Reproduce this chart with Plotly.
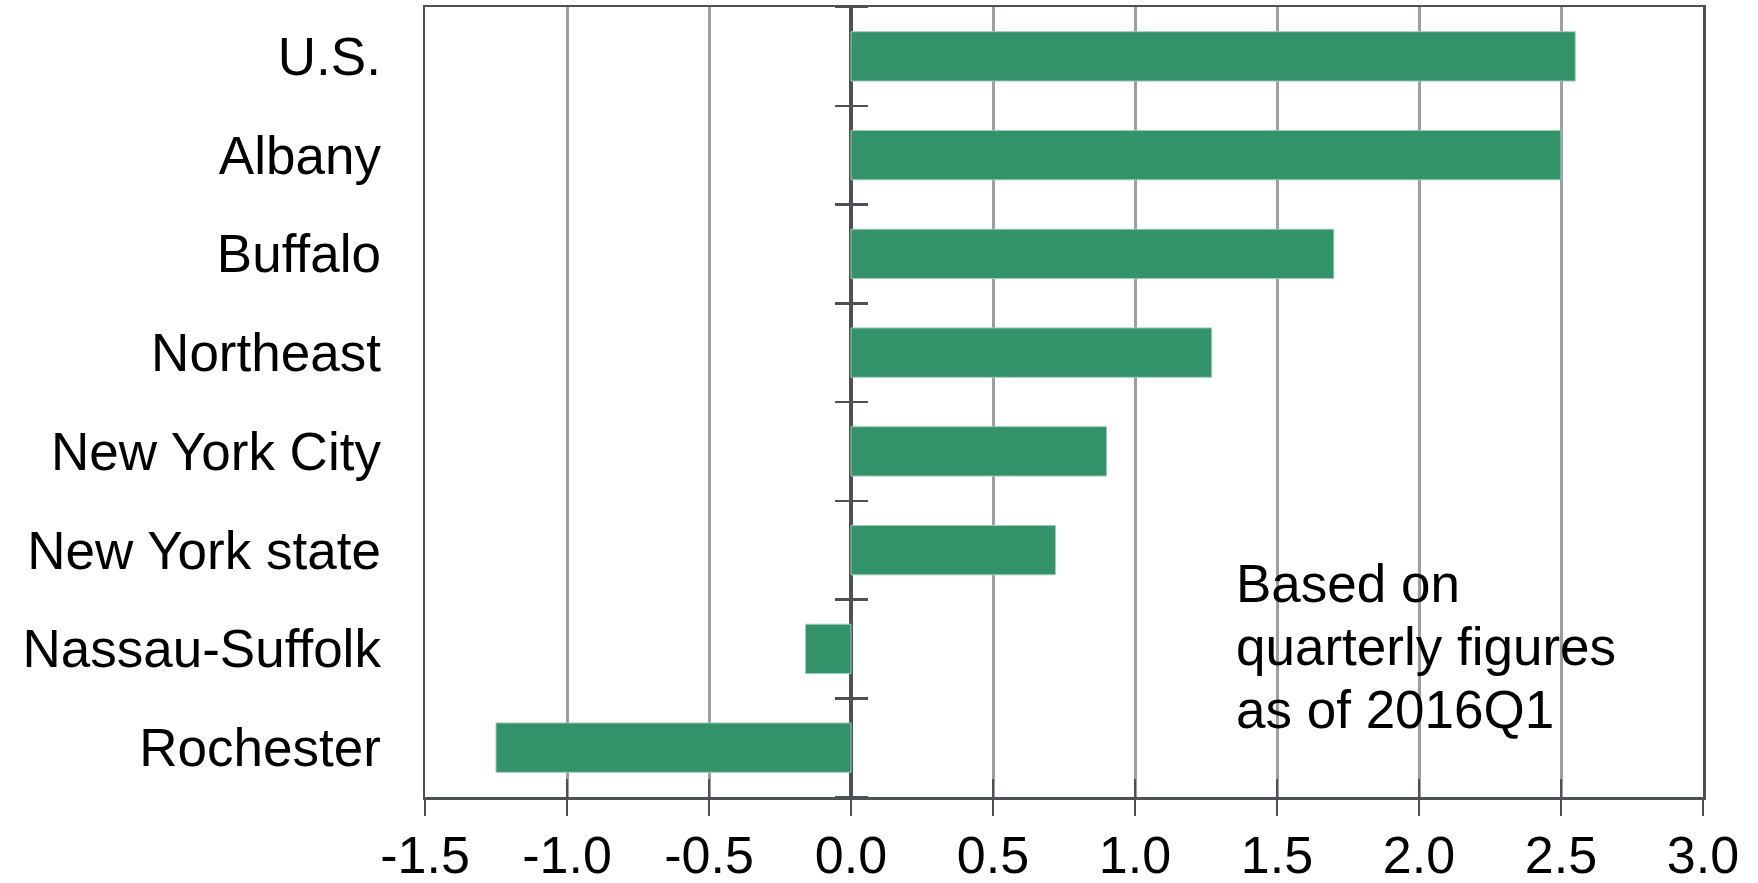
import plotly.graph_objects as go

regions = ["U.S.", "Albany", "Buffalo", "Northeast", "New York City",
           "New York state", "Nassau-Suffolk", "Rochester"]
growth = [2.55, 2.50, 1.70, 1.27, 0.90, 0.72, -0.16, -1.25]
x_ticks = [-1.5, -1.0, -0.5, 0.0, 0.5, 1.0, 1.5, 2.0, 2.5, 3.0]
x_tick_labels = ["-1.5", "-1.0", "-0.5", "0.0", "0.5", "1.0", "1.5", "2.0", "2.5", "3.0"]
boundaries = [-0.5, 0.5, 1.5, 2.5, 3.5, 4.5, 5.5, 6.5, 7.5]
note_lines = ["Based on", "quarterly figures", "as of 2016Q1"]

FONT = "Liberation Sans, Arial, sans-serif"
DARK = "#4d5155"
GRID = "#9b9fa4"
GREEN = "#34926B"

fig = go.Figure()
fig.add_trace(go.Bar(
    x=growth, y=regions, orientation="h",
    marker=dict(color=GREEN, line=dict(color="#9fcbb5", width=1)),
    hoverinfo="skip", showlegend=False,
))
# helper invisible traces so overlay axes are drawn
fig.add_trace(go.Scatter(x=[0], y=[0], xaxis="x2", yaxis="y2", mode="markers",
                         marker=dict(opacity=0), showlegend=False, hoverinfo="skip"))
fig.add_trace(go.Scatter(x=[0], y=[0], xaxis="x", yaxis="y2", mode="markers",
                         marker=dict(opacity=0), showlegend=False, hoverinfo="skip"))
fig.add_trace(go.Scatter(x=[0], y=[0], xaxis="x", yaxis="y3", mode="markers",
                         marker=dict(opacity=0), showlegend=False, hoverinfo="skip"))

# white box behind the note, interrupting gridlines
fig.add_shape(type="rect", xref="x", yref="paper", x0=1.36, x1=2.85,
              y0=0.0544, y1=0.3266, fillcolor="white", line=dict(width=0),
              layer="below")

for line, yp in zip(note_lines, [0.2703, 0.1905, 0.1108]):
    fig.add_annotation(text=line, xref="x", yref="paper", x=1.35, y=yp,
                       xanchor="left", yanchor="middle", align="left",
                       showarrow=False,
                       font=dict(family=FONT, size=53, color="black"))

fig.update_layout(
    width=1758, height=883,
    margin=dict(l=425, r=55, t=7, b=86, pad=0),
    paper_bgcolor="white", plot_bgcolor="white",
    bargap=0.5,
    xaxis=dict(
        range=[-1.5, 3.0], tickvals=x_ticks, ticktext=x_tick_labels,
        showgrid=True, gridcolor=GRID, gridwidth=3,
        zeroline=True, zerolinecolor=DARK, zerolinewidth=4,
        showline=True, linecolor=DARK, linewidth=2.5, mirror=True,
        ticks="outside", ticklen=16, tickwidth=2.5, tickcolor=DARK,
        tickfont=dict(family=FONT, size=52, color="black"),
        ticklabelstandoff=-5, automargin=False,
        fixedrange=True,
    ),
    xaxis2=dict(
        overlaying="x", anchor="y", side="bottom", range=[-1.5, 3.0],
        tickvals=x_ticks, ticks="inside", ticklen=18, tickwidth=2.5,
        tickcolor=DARK, showticklabels=False, showgrid=False,
        zeroline=False, showline=False, automargin=False,
    ),
    yaxis=dict(
        autorange="reversed", showgrid=False, zeroline=False,
        showline=True, linecolor=DARK, linewidth=2.5, mirror=True,
        ticks="", tickfont=dict(family=FONT, size=53, color="black"),
        ticklabelstandoff=31, automargin=False, fixedrange=True,
    ),
    yaxis2=dict(
        overlaying="y", anchor="free", position=1.5 / 4.5, side="left",
        range=[-0.5, 7.5], tickvals=boundaries, ticks="outside", ticklen=16,
        tickwidth=2.5, tickcolor=DARK, showticklabels=False, showgrid=False,
        zeroline=False, showline=False, automargin=False,
    ),
    yaxis3=dict(
        overlaying="y", anchor="free", position=1.5 / 4.5, side="right",
        range=[-0.5, 7.5], tickvals=boundaries, ticks="outside", ticklen=16,
        tickwidth=2.5, tickcolor=DARK, showticklabels=False, showgrid=False,
        zeroline=False, showline=False, automargin=False,
    ),
)

page_fix = ("document.documentElement.style.margin='0';"
            "document.body.style.margin='0';"
            "document.documentElement.style.overflow='hidden';"
            "document.body.style.overflow='hidden';")

fig.write_html("out.html", post_script=page_fix,
               config={"displayModeBar": False, "staticPlot": True})
